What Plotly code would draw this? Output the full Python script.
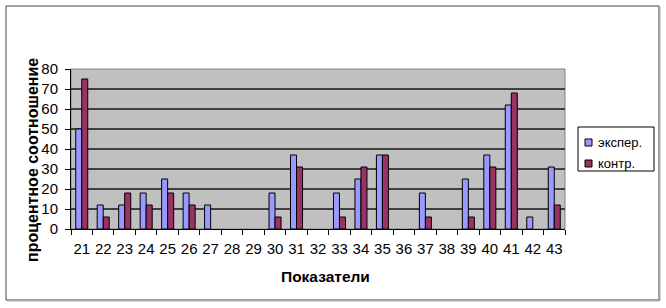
import plotly.graph_objects as go

categories = [str(c) for c in range(21, 44)]
series_names = ["экспер.", "контр."]
exp_values = [50, 12, 12, 18, 25, 18, 12, None, None, 18, 37, None, 18, 25, 37, None, 18, None, 25, 37, 62, 6, 31]
ctr_values = [75, 6, 18, 12, 18, 12, None, None, None, 6, 31, None, 6, 31, 37, None, 6, None, 6, 31, 68, None, 12]
colors = ["#9999ff", "#993366"]
y_ticks = [0, 10, 20, 30, 40, 50, 60, 70, 80]

W, H = 666, 308
L, R, T, B = 71, 101, 69, 79
PW, PH = W - L - R, H - T - B

def px(x):
    return (x - L) / PW

def py(y):
    return (H - B - y) / PH

fig = go.Figure()
for name, vals, col in zip(series_names, [exp_values, ctr_values], colors):
    fig.add_trace(go.Bar(x=categories, y=vals, name=name,
                         marker=dict(color=col, line=dict(color="black", width=1)),
                         showlegend=False))

font = "Liberation Sans, Arial, sans-serif"
shapes = []
annotations = []
# outer chart border
shapes.append(dict(type="rect", xref="paper", yref="paper", x0=px(6), x1=px(659), y0=py(300), y1=py(6),
                   line=dict(color="#444", width=1), fillcolor="rgba(0,0,0,0)", layer="below"))
shapes.append(dict(type="line", xref="paper", yref="paper", x0=px(660), x1=px(660), y0=py(301), y1=py(7),
                   line=dict(color="#aaa", width=1)))
shapes.append(dict(type="line", xref="paper", yref="paper", x0=px(7), x1=px(660), y0=py(301), y1=py(301),
                   line=dict(color="#aaa", width=1)))
# plot area border
shapes.append(dict(type="rect", xref="paper", yref="paper", x0=0, x1=1, y0=0, y1=1,
                   line=dict(color="#808080", width=1), layer="below"))
# legend box
shapes.append(dict(type="rect", xref="paper", yref="paper", x0=px(578), x1=px(654), y0=py(171), y1=py(127),
                   line=dict(color="black", width=1), fillcolor="white"))
for i, (name, col) in enumerate(zip(series_names, colors)):
    cy = 142.5 + 21 * i
    shapes.append(dict(type="rect", xref="paper", yref="paper", x0=px(585), x1=px(592),
                       y0=py(cy + 3.5), y1=py(cy - 3.5), line=dict(color="black", width=1), fillcolor=col))
    annotations.append(dict(x=px(596), y=py(cy), xref="paper", yref="paper", text=name, showarrow=False,
                            xanchor="left", yanchor="middle", font=dict(family=font, size=13, color="black")))

annotations.append(dict(x=px(325), y=py(276), xref="paper", yref="paper", text="<b>Показатели</b>",
                        showarrow=False, xanchor="center", yanchor="middle",
                        font=dict(family=font, size=15.5, color="black")))
annotations.append(dict(x=px(32), y=py(160), xref="paper", yref="paper", text="<b>процентное соотношение</b>",
                        showarrow=False, xanchor="center", yanchor="middle", textangle=-90,
                        font=dict(family=font, size=16, color="black")))

fig.update_layout(
    width=W, height=H,
    margin=dict(l=L, r=R, t=T, b=B, pad=0),
    paper_bgcolor="white", plot_bgcolor="#c0c0c0",
    barmode="group", bargap=0.44, bargroupgap=0,
    shapes=shapes, annotations=annotations,
    font=dict(family=font, size=15, color="black"),
)
fig.update_xaxes(type="category", tickson="boundaries", ticks="outside", ticklen=5, tickcolor="black",
                 showline=True, linecolor="black", linewidth=1, showgrid=False, tickangle=0,
                 tickfont=dict(family=font, size=15), ticklabelstandoff=6)
fig.update_yaxes(range=[0, 80], tickvals=y_ticks, ticks="outside", ticklen=5, tickcolor="black",
                 showline=True, linecolor="black", linewidth=1, showgrid=True, gridcolor="#404040",
                 gridwidth=1.5, zeroline=False, tickfont=dict(family=font, size=15), ticklabelstandoff=4)

fig.write_html("out.html")
